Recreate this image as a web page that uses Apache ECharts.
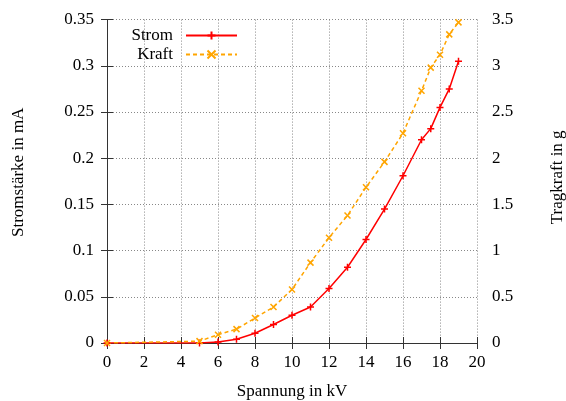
<!DOCTYPE html>
<html><head><meta charset="utf-8">
<script src="https://cdn.jsdelivr.net/npm/echarts@6/dist/echarts.min.js"></script>
<style>html,body{margin:0;padding:0;background:#fff;overflow:hidden}#c{width:566px;height:401px}</style>
</head><body><div id="c"></div>
<script>
const voltage = [0, 5, 6, 7, 8, 9, 10, 11, 12, 13, 14, 15, 16, 17, 17.5, 18, 18.5, 19];
const strom   = [0, 0, 0.001, 0.004, 0.0105, 0.020, 0.030, 0.039, 0.059, 0.082, 0.112, 0.145, 0.181, 0.220, 0.232, 0.255, 0.275, 0.305];
const kraft   = [0, 0.02, 0.09, 0.15, 0.27, 0.39, 0.58, 0.87, 1.14, 1.38, 1.685, 1.96, 2.27, 2.73, 2.98, 3.12, 3.34, 3.47];

const FONT = 'Liberation Serif';
const TXT = {fontFamily: FONT, fontSize: 17, color: '#000'};
const plusSym = 'path://M0,5L10,5M5,0L5,10';
const crossSym = 'path://M0,0L10,10M10,0L0,10';
const axLine = {show: true, lineStyle: {color: '#333', width: 1}};
const grid = {show: true, lineStyle: {color: '#888', type: [1, 2], width: 1}};

const chart = echarts.init(document.getElementById('c'), null, {renderer: 'canvas'});
chart.setOption({
  animation: false,
  backgroundColor: '#fff',
  grid: {left: 107, right: 89, top: 19.6, bottom: 58, containLabel: false, outerBoundsMode: 'none'},
  legend: [
    {data: ['Strom'], top: 22, right: 323, align: 'right', orient: 'vertical',
     itemWidth: 51, itemHeight: 10, textStyle: Object.assign({}, TXT, {padding: [0, 8, 0, 0]})},
    {data: ['Kraft'], top: 41, right: 323, align: 'right', orient: 'vertical',
     itemWidth: 51, itemHeight: 10, textStyle: Object.assign({}, TXT, {padding: [0, 8, 0, 0]})}
  ],
  xAxis: [
    {type: 'value', min: 0, max: 20, interval: 2, position: 'bottom',
     name: 'Spannung in kV', nameLocation: 'middle', nameGap: 40, nameTextStyle: TXT,
     axisLine: axLine, axisTick: {inside: true, length: 6, lineStyle: {color: '#333'}},
     axisLabel: Object.assign({}, TXT, {margin: 11}), splitLine: grid},
    {type: 'value', min: 0, max: 20, interval: 2, position: 'top',
     axisLine: axLine, axisTick: {inside: true, length: 6, lineStyle: {color: '#333'}},
     axisLabel: {show: false}, splitLine: {show: false}}
  ],
  yAxis: [
    {type: 'value', min: 0, max: 0.35, interval: 0.05, position: 'left',
     name: 'Stromstärke in mA', nameLocation: 'middle', nameGap: 80, nameRotate: 90,
     nameTextStyle: Object.assign({}, TXT, {padding: [0, 0, 0, 18]}),
     axisLine: axLine, axisTick: {inside: true, length: 6, lineStyle: {color: '#333'}},
     axisLabel: Object.assign({}, TXT, {margin: 13}), splitLine: grid},
    {type: 'value', min: 0, max: 3.5, interval: 0.5, position: 'right',
     name: 'Tragkraft in g', nameLocation: 'middle', nameGap: 72, nameRotate: 90,
     nameTextStyle: Object.assign({}, TXT, {padding: [0, 0, 0, 8]}),
     axisLine: axLine, axisTick: {inside: true, length: 6, lineStyle: {color: '#333'}},
     axisLabel: Object.assign({}, TXT, {margin: 15}), splitLine: {show: false}}
  ],
  series: [
    {name: 'Strom', type: 'line', xAxisIndex: 0, yAxisIndex: 0,
     data: voltage.map((v, i) => [v, strom[i]]),
     symbol: plusSym, symbolSize: 7,
     lineStyle: {color: '#ff0000', width: 1.5},
     itemStyle: {color: '#ff0000', borderColor: '#ff0000', borderWidth: 1.5}},
    {name: 'Kraft', type: 'line', xAxisIndex: 0, yAxisIndex: 1,
     data: voltage.map((v, i) => [v, kraft[i]]),
     symbol: crossSym, symbolSize: 6,
     lineStyle: {color: '#ffa500', width: 1.5, type: [4, 3]},
     itemStyle: {color: '#ffa500', borderColor: '#ffa500', borderWidth: 1.5}}
  ]
});
</script></body></html>
